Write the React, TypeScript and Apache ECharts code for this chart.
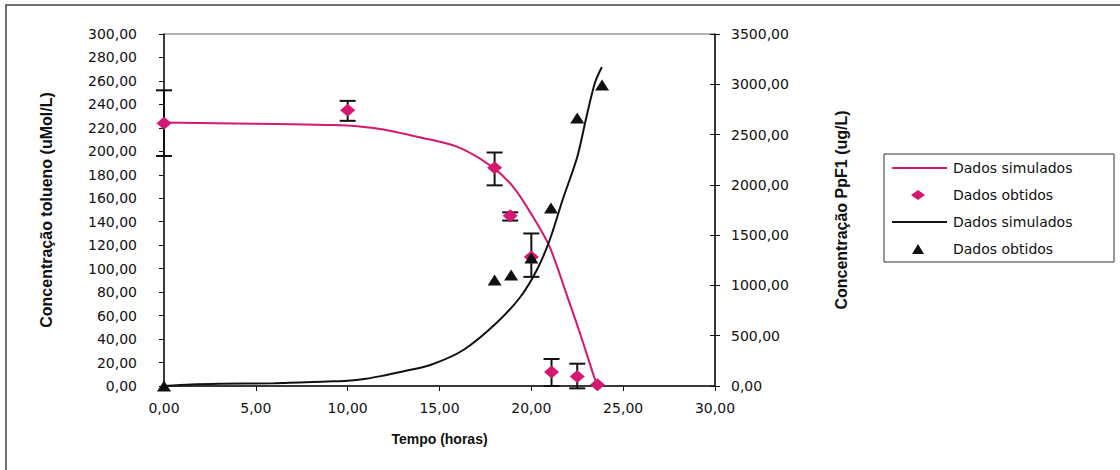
import React, { useEffect, useRef } from "react";
import * as echarts from "echarts";

const xTicks = [0, 5, 10, 15, 20, 25, 30];
const toluenoSim: [number, number][] = [
  [0, 224.5], [5, 223.5], [8.9, 222.5], [10, 222], [11.76, 219], [13.9, 212], [15.95, 204],
  [17.75, 188], [19, 170], [20.1, 144], [21, 118.5], [21.9, 79], [22.65, 45], [23.35, 11], [23.6, 0],
];
const toluenoObs: [number, number][] = [
  [0, 224], [10, 235], [18, 186], [18.85, 145], [20, 110], [21.1, 12], [22.5, 8], [23.6, 1],
];
const toluenoErr: [number, number, number][] = [
  [0, 196, 252], [10, 226, 243], [18, 171, 199], [18.85, 141, 148], [20, 93, 130], [21.1, 0, 23], [22.5, -2, 19],
];
const ppf1Sim: [number, number][] = [
  [0, 0], [1.5, 15], [3, 22], [6, 28], [8.9, 45], [10, 52], [11, 72], [11.8, 98], [13, 145],
  [14.5, 209], [16.3, 358], [18.1, 626], [19.4, 885], [20.3, 1153], [21, 1452], [21.7, 1850],
  [22.5, 2277], [23, 2675], [23.46, 3013], [23.84, 3172],
];
const ppf1Obs: [number, number][] = [
  [0, 0], [18, 1054], [18.9, 1104], [20, 1273], [21.07, 1770], [22.5, 2665], [23.85, 2993],
];
const legendLabels = ["Dados simulados", "Dados obtidos", "Dados simulados", "Dados obtidos"];

const PINK = "#d4176f";
const FONT = "DejaVu Sans";
const TITLE_FONT = "Liberation Sans";

const fmt = (v: number) => v.toFixed(2).replace(".", ",");

export default function App() {
  const ref = useRef<HTMLDivElement>(null);
  useEffect(() => {
    document.body.style.margin = "0";
    const chart = echarts.init(ref.current!, null, { renderer: "svg" });
    const legX = 884, legY = 154;
    const rows = [168, 195, 222, 249];
    const legendGraphics: any[] = [
      { type: "rect", shape: { x: legX, y: legY, width: 230, height: 108 }, style: { fill: "#fff", stroke: "#333", lineWidth: 1 } },
      { type: "line", shape: { x1: 892, y1: rows[0], x2: 947, y2: rows[0] }, style: { stroke: PINK, lineWidth: 2 } },
      { type: "polygon", shape: { points: [[911, rows[1]], [918, rows[1] - 5], [925, rows[1]], [918, rows[1] + 5]] }, style: { fill: PINK } },
      { type: "line", shape: { x1: 892, y1: rows[2], x2: 947, y2: rows[2] }, style: { stroke: "#111", lineWidth: 2 } },
      { type: "polygon", shape: { points: [[912, rows[3] + 5], [918, rows[3] - 5], [924, rows[3] + 5]] }, style: { fill: "#111" } },
      ...legendLabels.map((t, i) => ({
        type: "text", x: 953, y: rows[i],
        style: { text: t, font: `14px ${FONT}`, fill: "#111", verticalAlign: "middle", align: "left" },
      })),
    ];
    const titleStyle = { fontFamily: TITLE_FONT, fontWeight: "bold", fontSize: 16, color: "#111" };
    chart.setOption({
      animation: false,
      backgroundColor: "#fff",
      textStyle: { fontFamily: FONT },
      grid: { left: 164, right: 405, top: 34, bottom: 84, show: true, borderColor: "#666", borderWidth: 1 },
      xAxis: {
        type: "value", min: 0, max: 30, interval: 5,
        name: "Tempo (horas)", nameLocation: "middle", nameGap: 46,
        nameTextStyle: { ...titleStyle, fontSize: 14 },
        axisLine: { show: true, lineStyle: { color: "#111", width: 1.5 } },
        axisTick: { show: true, length: 5, lineStyle: { color: "#111" } },
        axisLabel: { formatter: (v: number) => (xTicks.includes(v) ? fmt(v) : ""), fontSize: 14, color: "#111", margin: 15, fontFamily: FONT },
        splitLine: { show: false },
      },
      yAxis: [
        {
          type: "value", min: 0, max: 300, interval: 20, position: "left",
          name: "Concentração tolueno (uMol/L)", nameLocation: "middle", nameRotate: 90, nameGap: 110,
          nameTextStyle: titleStyle,
          axisLine: { show: true, lineStyle: { color: "#111", width: 1.5 } },
          axisTick: { show: true, length: 5, lineStyle: { color: "#111" } },
          axisLabel: { formatter: fmt, fontSize: 14, color: "#111", margin: 27, fontFamily: FONT },
          splitLine: { show: false },
        },
        {
          type: "value", min: 0, max: 3500, interval: 500, position: "right",
          name: "Concentração PpF1 (ug/L)", nameLocation: "middle", nameRotate: 90, nameGap: 118,
          nameTextStyle: titleStyle,
          axisLine: { show: true, lineStyle: { color: "#111", width: 1.5 } },
          axisTick: { show: true, length: 5, lineStyle: { color: "#111" } },
          axisLabel: { formatter: fmt, fontSize: 14, color: "#111", margin: 16, fontFamily: FONT },
          splitLine: { show: false },
        },
        {
          type: "value", min: 0, max: 3500, interval: 500, position: "right", show: true,
          axisLine: { show: false },
          axisTick: { show: true, inside: true, length: 5, lineStyle: { color: "#111" } },
          axisLabel: { show: false },
          splitLine: { show: false },
        },
      ],
      series: [
        {
          type: "custom", yAxisIndex: 0, data: toluenoErr, encode: { x: 0, y: [1, 2] }, z: 3,
          renderItem: (params: any, api: any) => {
            const x = api.value(0);
            const lo = api.coord([x, api.value(1)]);
            const hi = api.coord([x, api.value(2)]);
            const w = 8;
            const st = { stroke: "#111", lineWidth: 2 };
            return {
              type: "group",
              children: [
                { type: "line", shape: { x1: lo[0], y1: lo[1], x2: hi[0], y2: hi[1] }, style: st },
                { type: "line", shape: { x1: lo[0] - w, y1: lo[1], x2: lo[0] + w, y2: lo[1] }, style: st },
                { type: "line", shape: { x1: hi[0] - w, y1: hi[1], x2: hi[0] + w, y2: hi[1] }, style: st },
              ],
            };
          },
        },
        {
          name: "Dados simulados", type: "line", yAxisIndex: 0, data: toluenoSim, smooth: 0.3,
          showSymbol: false, lineStyle: { color: PINK, width: 2 }, itemStyle: { color: PINK }, z: 4,
        },
        {
          name: "Dados obtidos", type: "scatter", yAxisIndex: 0, data: toluenoObs,
          symbol: "diamond", symbolSize: [15, 13], itemStyle: { color: PINK, opacity: 1 }, z: 5,
        },
        {
          name: "Dados simulados PpF1", type: "line", yAxisIndex: 1, data: ppf1Sim, smooth: 0.3,
          showSymbol: false, lineStyle: { color: "#111", width: 2 }, itemStyle: { color: "#111" }, z: 4,
        },
        {
          name: "Dados obtidos PpF1", type: "scatter", yAxisIndex: 1, data: ppf1Obs,
          symbol: "triangle", symbolSize: [14, 11], itemStyle: { color: "#111", opacity: 1 }, z: 5,
        },
      ],
      graphic: [
        { type: "rect", shape: { x: 6, y: 5, width: 1200, height: 600 }, style: { fill: "none", stroke: "#444", lineWidth: 1.5 }, silent: true, z: -10 },
        ...legendGraphics,
      ],
    });
    return () => chart.dispose();
  }, []);
  return <div ref={ref} style={{ width: 1120, height: 470 }} />;
}
